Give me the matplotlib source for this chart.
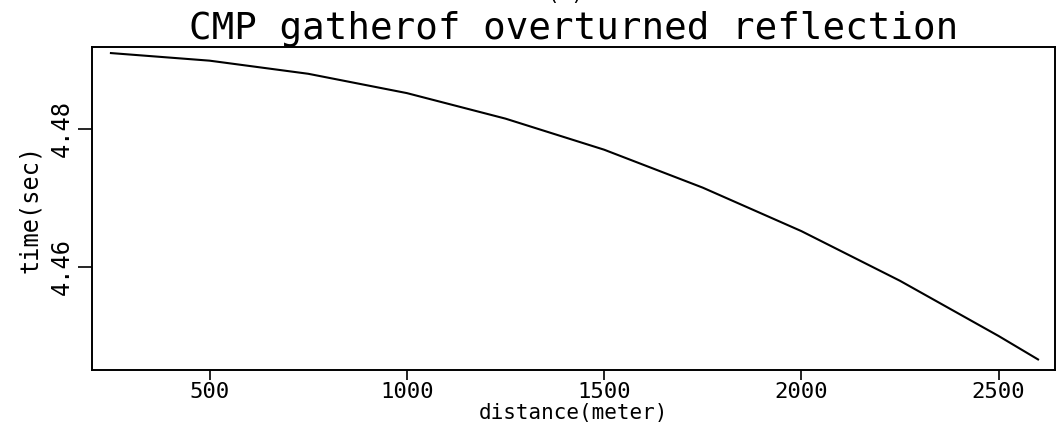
import matplotlib
matplotlib.use("Agg")
import matplotlib.pyplot as plt

# CMP gather: two-way time of the overturned reflection versus offset
distance = [250, 500, 750, 1000, 1250, 1500, 1750, 2000, 2250, 2500, 2600]
time_sec = [4.4910, 4.4899, 4.4880, 4.4852, 4.4815, 4.4770, 4.4715, 4.4652,
            4.4580, 4.4500, 4.4466]

xticks = [500, 1000, 1500, 2000, 2500]
yticks = [4.46, 4.48]

plt.rcParams['font.family'] = ['DejaVu Sans Mono', 'DejaVu Sans']

fig = plt.figure(figsize=(10.59, 4.29), dpi=100)
ax = fig.add_axes([92 / 1059, 1 - 370 / 429, 963 / 1059, 323 / 429])

ax.plot(distance, time_sec, color='black', lw=1.5)

ax.set_xlim(202, 2643)
ax.set_ylim(4.44507, 4.49188)
ax.set_xticks(xticks)
ax.set_xticklabels([str(v) for v in xticks], fontsize=16)
ax.set_yticks(yticks)
ax.set_yticklabels([f"{v:.2f}" for v in yticks], fontsize=17,
                   rotation=90, va='center')

ax.tick_params(axis='x', direction='out', length=7, width=1.2, pad=2)
ax.tick_params(axis='y', direction='out', length=10, width=1.2, pad=3)
for s in ax.spines.values():
    s.set_linewidth(1.4)

ax.set_xlabel("distance(meter)", fontsize=15, labelpad=0)
ax.set_ylabel("time(sec)", fontsize=17, labelpad=6)
ax.set_title("CMP gatherof overturned reflection", fontsize=27, pad=6)

# panel letter sitting just above the top edge
fig.text(0.534, 1.0, "(a)", fontsize=15, ha='center', va='baseline')

fig.savefig("out.png", dpi=100)
